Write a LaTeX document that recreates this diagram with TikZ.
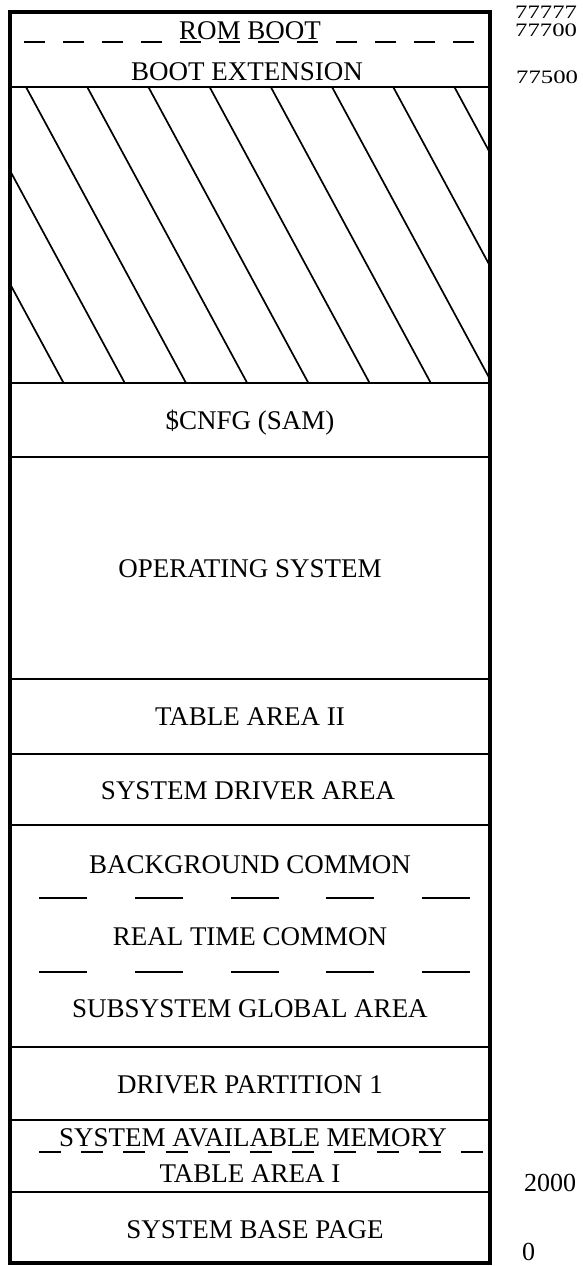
\documentclass[tikz,border=0pt]{standalone}
\usepackage{fontspec}
\setmainfont{Liberation Serif}
\begin{document}
\begin{tikzpicture}[x=1pt,y=-1pt,
  lab/.style={anchor=base,inner sep=0pt,font=\fontsize{27}{30}\selectfont},
  topnum/.style={anchor=west,inner sep=0pt,font=\fontsize{19}{20}\selectfont},
  botnum/.style={anchor=west,inner sep=0pt,font=\fontsize{26}{28}\selectfont},
  sepline/.style={line width=2.2pt},
  hatchline/.style={line width=1.7pt},
  frame/.style={line width=4pt}]
\useasboundingbox (0,0) rectangle (582,1266);
% hatched region
\begin{scope}
  \clip (10,87) rectangle (490,383);
  \foreach \i in {-3,...,8} \draw[hatchline] ({26+61.2*\i},87) -- ++(160,296);
\end{scope}
% separators
\foreach \yy in {87,383,457,679,754,825,1047,1120,1192}
  \draw[sepline] (10,\yy) -- (490,\yy);
% dashed separators
\draw[sepline, dash pattern=on 21pt off 18pt] (24,42) -- (474,42);
\draw[sepline, dash pattern=on 48pt off 47.75pt] (39,898) -- (471,898);
\draw[sepline, dash pattern=on 48pt off 47.75pt] (39,972) -- (471,972);
\draw[sepline, dash pattern=on 22pt off 20.2pt] (39,1152) -- (483,1152);
% outer frame
\draw[frame] (10,12) rectangle (490,1263);
% labels
\node[lab] (rom) at (250,39) {ROM BOOT};
\node[lab] (bootext) at (247,80) {BOOT EXTENSION};
\node[lab] (cnfg) at (250,429) {\$CNFG (SAM)};
\node[lab] (os) at (250,577) {OPERATING SYSTEM};
\node[lab] (ta2) at (250,725) {TABLE AREA II};
\node[lab] (sda) at (248,799) {SYSTEM DRIVER AREA};
\node[lab] (bgc) at (250,873) {BACKGROUND COMMON};
\node[lab] (rtc) at (250,945) {REAL TIME COMMON};
\node[lab] (sga) at (250,1017) {SUBSYSTEM GLOBAL AREA};
\node[lab] (dp1) at (250,1093) {DRIVER PARTITION 1};
\node[lab] (sam) at (253,1146) {SYSTEM AVAILABLE MEMORY};
\node[lab] (ta1) at (250,1182) {TABLE AREA I};
\node[lab] (sbp) at (255,1238) {SYSTEM BASE PAGE};
% addresses
\node[topnum] (a77777) at (515,12.5) {\scalebox{1.3}[1]{77777}};
\node[topnum] (a77700) at (515,30) {\scalebox{1.3}[1]{77700}};
\node[topnum] (a77500) at (516,77) {\scalebox{1.3}[1]{77500}};
\node[botnum] (a2000) at (524,1183) {2000};
\node[botnum] (a0) at (522,1252) {0};
\end{tikzpicture}
\end{document}
